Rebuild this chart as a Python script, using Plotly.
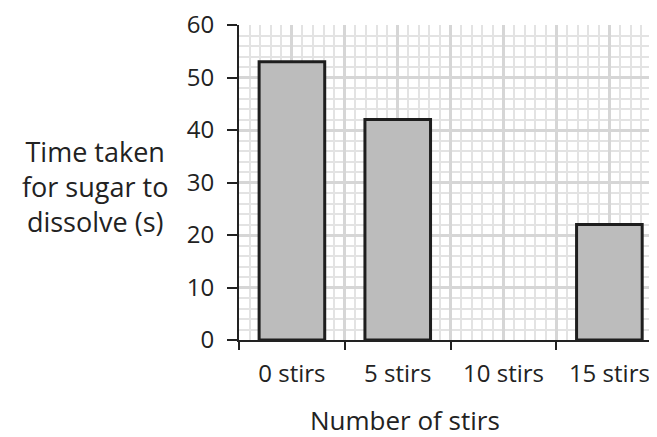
import plotly.graph_objects as go

categories = ["0 stirs", "5 stirs", "10 stirs", "15 stirs"]
times = [53, 42, None, 22]
y_ticks = [0, 10, 20, 30, 40, 50, 60]

FONT = "Open Sans"
TXT = "#222222"
xpos = list(range(len(categories)))

fig = go.Figure()
fig.add_trace(go.Bar(
    x=xpos, y=times, width=0.62,
    marker=dict(color="#bcbcbc", line=dict(color="#1e1e1e", width=3)),
    xaxis="x", yaxis="y", hoverinfo="skip",
))
# invisible trace to activate the boundary-tick axis
fig.add_trace(go.Scatter(x=[-0.5], y=[None], xaxis="x2", yaxis="y",
                         mode="markers", showlegend=False, hoverinfo="skip"))

fig.update_layout(
    width=649, height=429,
    margin=dict(l=231, r=0, t=17, b=97),
    paper_bgcolor="white", plot_bgcolor="white",
    showlegend=False,
    font=dict(family=FONT, size=26, color=TXT),
    xaxis=dict(
        range=[-0.5, 3.45], tickmode="array", tickvals=xpos, ticktext=categories,
        ticks="", showgrid=True, gridcolor="#d6d6d6", gridwidth=2.5,
        minor=dict(tick0=-0.5, dtick=0.1, showgrid=True, gridcolor="#e3e3e3", gridwidth=2, ticks=""),
        showline=True, linecolor="#222222", linewidth=2, automargin=False,
        zeroline=False, tickfont=dict(size=24, color=TXT), ticklabelstandoff=11,
        ticklabeloverflow="allow",
    ),
    xaxis2=dict(
        overlaying="x", side="bottom", range=[-0.5, 3.45], automargin=False,
        tickmode="array", tickvals=[-0.5, 0.5, 1.5, 2.5, 3.5],
        showticklabels=False, ticks="outside", ticklen=9, tickwidth=2, tickcolor="#222222",
        showgrid=True, gridcolor="#d6d6d6", gridwidth=2.5, zeroline=False, showline=False,
    ),
    yaxis=dict(
        range=[0, 60], tickmode="array", tickvals=y_ticks, automargin=False,
        ticks="outside", ticklen=10, tickwidth=2, tickcolor="#222222",
        showgrid=True, gridcolor="#d6d6d6", gridwidth=2.5,
        minor=dict(dtick=2, showgrid=True, gridcolor="#e3e3e3", gridwidth=2, ticks=""),
        showline=True, linecolor="#222222", linewidth=2, zeroline=False,
        tickfont=dict(size=24, color=TXT), ticklabelstandoff=8,
        ticklabeloverflow="allow",
    ),
    annotations=[
        dict(
            text="Time taken<br>for sugar to<br>dissolve (s)",
            xref="paper", yref="paper", x=-0.344, y=0.487, xanchor="center", yanchor="middle",
            showarrow=False, align="center", font=dict(size=27, color=TXT),
        ),
        dict(
            text="Number of stirs",
            xref="paper", yref="paper", x=0.397, y=-0.253, xanchor="center", yanchor="middle",
            showarrow=False, font=dict(size=26, color=TXT),
        ),
    ],
)

fig.write_html("out.html")
